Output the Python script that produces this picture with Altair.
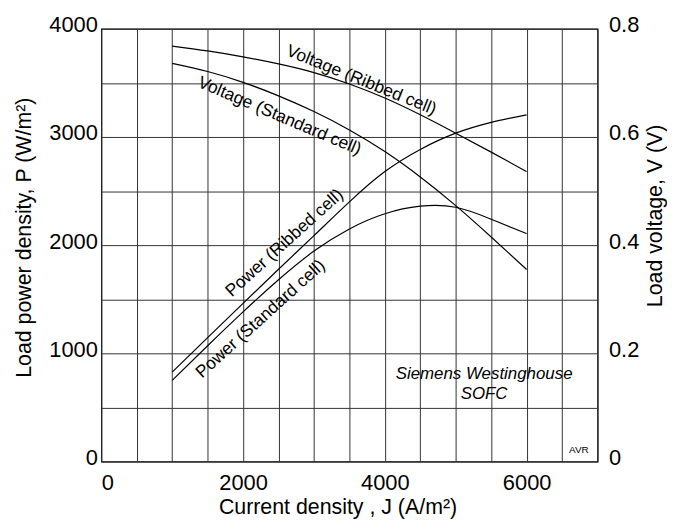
import altair as alt
import pandas as pd

FONT = "Liberation Sans"

# Current density J (A/m^2)
J = [1000, 1500, 2000, 2500, 3000, 3500, 4000, 4500, 5000, 5500, 6000]
# Load voltage (V)
V_ribbed = [0.768, 0.759, 0.748, 0.735, 0.719, 0.698, 0.672, 0.641, 0.607, 0.572, 0.536]
V_standard = [0.736, 0.721, 0.701, 0.676, 0.647, 0.613, 0.573, 0.526, 0.473, 0.415, 0.355]
# Load power density (W/m^2)
P_ribbed = [826, 1145, 1462, 1777, 2088, 2400, 2680, 2885, 3035, 3135, 3205]
P_standard = [750, 1070, 1383, 1680, 1945, 2150, 2290, 2360, 2350, 2240, 2106]

# Curve labels (placed in power-density coordinates)
curve_labels = ["Voltage (Ribbed cell)", "Voltage (Standard cell)",
                "Power (Ribbed cell)", "Power (Standard cell)"]
curve_label_J = [3668, 2513, 2586, 2247]
curve_label_P = [3523, 3192, 2019, 1316]
curve_label_angle = [22, 23, 318, 318]

note_labels = ["Siemens Westinghouse", "SOFC"]
note_J = [5400, 5400]
note_P = [810, 628]

corner_label = ["AVR"]
corner_J = [6737]
corner_P = [107]

x_ticks = list(range(0, 7001, 500))
y_ticks = list(range(0, 4001, 500))
v_ticks = [0, 0.2, 0.4, 0.6, 0.8]

n = len(J)
power_df = pd.DataFrame({"J": J * 2, "P": P_ribbed + P_standard,
                         "series": ["Ribbed"] * n + ["Standard"] * n})
volt_df = pd.DataFrame({"J": J * 2, "V": V_ribbed + V_standard,
                        "series": ["Ribbed"] * n + ["Standard"] * n})
curve_df = pd.DataFrame({"J": curve_label_J, "P": curve_label_P,
                         "label": curve_labels, "angle": curve_label_angle})
note_df = pd.DataFrame({"J": note_J, "P": note_P, "label": note_labels})
corner_df = pd.DataFrame({"J": corner_J, "P": corner_P, "label": corner_label})

common_axis = dict(labelFont=FONT, titleFont=FONT, labelFontSize=22, titleFontSize=21.5,
                   titleFontWeight="normal", labelColor="black", titleColor="black",
                   ticks=False, domain=False)

x_enc = alt.X("J:Q", scale=alt.Scale(domain=[0, 7000], nice=False),
              axis=alt.Axis(values=x_ticks, format="d",
                            labelExpr="datum.value % 2000 == 0 ? datum.label : ''",
                            title="Current density , J  (A/m²)",
                            grid=True, gridColor="#333", gridWidth=1,
                            titleX=238,
                            labelPadding=11, titlePadding=3, **common_axis))
y_enc = alt.Y("P:Q", scale=alt.Scale(domain=[0, 4000], nice=False),
              axis=alt.Axis(values=y_ticks, format="d", orient="left",
                            labelExpr="datum.value % 1000 == 0 ? datum.label : ''",
                            title="Load power density,  P  (W/m²)",
                            grid=True, gridColor="#333", gridWidth=1,
                            titleY=210,
                            labelBaseline="alphabetic", labelOffset=3,
                            labelPadding=4, titlePadding=13, **common_axis))

power = alt.Chart(power_df).mark_line(color="black", strokeWidth=1.2,
                                      interpolate="natural").encode(
    x=x_enc, y=y_enc, detail="series:N")

curve_text = alt.Chart(curve_df).mark_text(font=FONT, fontSize=17.5, color="black").encode(
    x=x_enc, y=y_enc, text="label:N", angle=alt.Angle("angle:Q", scale=None))

note_text = alt.Chart(note_df).mark_text(font=FONT, fontSize=17, fontStyle="italic",
                                         color="black").encode(
    x=x_enc, y=y_enc, text="label:N")

corner_text = alt.Chart(corner_df).mark_text(font=FONT, fontSize=10, color="black").encode(
    x=x_enc, y=y_enc, text="label:N")

left = alt.layer(power, curve_text, note_text, corner_text)

volt = alt.Chart(volt_df).mark_line(color="black", strokeWidth=1.2,
                                    interpolate="natural").encode(
    x=x_enc,
    y=alt.Y("V:Q", scale=alt.Scale(domain=[0, 0.8], nice=False),
            axis=alt.Axis(values=v_ticks, format=".1~f", orient="right", grid=False,
                          title="Load voltage,  V  (V)", titleAngle=270,
                          titleBaseline="top", titleY=188,
                          labelBaseline="alphabetic", labelOffset=3,
                          labelPadding=11, titlePadding=6, **common_axis)),
    detail="series:N")

chart = alt.layer(left, volt).resolve_scale(y="independent").properties(
    width=500, height=436,
    padding={"left": 6, "top": 4, "right": 0, "bottom": 0},
    background="white",
).configure_view(stroke="black", strokeWidth=1.2)

chart.save("out.html", embed_options={"renderer": "svg", "actions": False})
